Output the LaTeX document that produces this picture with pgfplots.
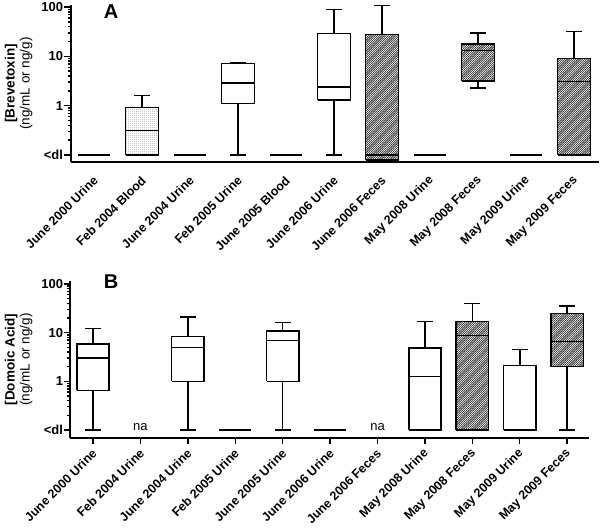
\documentclass[border=0pt]{standalone}
\usepackage{fontspec}
\setmainfont{Liberation Sans}
\usepackage{pgfplots}
\pgfplotsset{compat=1.18}
\usetikzlibrary{patterns}

\pgfdeclarepatternformonly{densehatch}{\pgfqpoint{-0.5pt}{-0.5pt}}{\pgfqpoint{2.7pt}{2.7pt}}{\pgfqpoint{2.2pt}{2.2pt}}{%
  \pgfsetlinewidth{0.6pt}%
  \pgfpathmoveto{\pgfqpoint{-0.3pt}{-0.3pt}}%
  \pgfpathlineto{\pgfqpoint{2.5pt}{2.5pt}}%
  \pgfusepath{stroke}%
}
\pgfdeclarepatternformonly{finedots}{\pgfpointorigin}{\pgfqpoint{2pt}{2pt}}{\pgfqpoint{2pt}{2pt}}{%
  \pgfpathcircle{\pgfqpoint{1pt}{1pt}}{0.45pt}%
  \pgfusepath{fill}%
}
\tikzset{
  hatch/.style={pattern=densehatch, pattern color=black!85},
  dotfill/.style={pattern=finedots, pattern color=black!65},
  nofill/.style={},
}
% \bx{style}{x}{lower whisker}{lower quartile}{median}{upper quartile}{upper whisker}
\newcommand{\bx}[7]{%
  \pgfmathsetmacro\xl{#2-0.34}\pgfmathsetmacro\xr{#2+0.34}%
  \pgfmathsetmacro\cl{#2-0.17}\pgfmathsetmacro\cright{#2+0.17}%
  \edef\tmp{%
    \noexpand\addplot[black,line width=1.5pt,#1] coordinates {(\xl,#4) (\xr,#4) (\xr,#6) (\xl,#6) (\xl,#4)};
    \noexpand\addplot[black,line width=1.5pt] coordinates {(\xl,#5) (\xr,#5)};
    \noexpand\addplot[black,line width=1.5pt] coordinates {(#2,#6) (#2,#7)};
    \noexpand\addplot[black,line width=1.5pt] coordinates {(#2,#3) (#2,#4)};
    \noexpand\addplot[black,line width=1.5pt] coordinates {(\cl,#7) (\cright,#7)};
    \noexpand\addplot[black,line width=1.5pt] coordinates {(\cl,#3) (\cright,#3)};
  }\tmp
}
\newcommand{\dl}[1]{%
  \pgfmathsetmacro\xl{#1-0.34}\pgfmathsetmacro\xr{#1+0.34}%
  \edef\tmp{\noexpand\addplot[black,line width=1.5pt] coordinates {(\xl,0.1) (\xr,0.1)};}\tmp
}

\begin{document}
\begin{tikzpicture}
\path (0pt,0pt) rectangle (602pt,518pt);

% Panel A
\begin{semilogyaxis}[
  scale only axis,
  clip=false,
  axis lines*=left,
  at={(71pt,356pt)}, anchor=south west,
  width=528pt, height=157pt,
  xmin=-0.48, xmax=10.52,
  ymin=0.072, ymax=110,
  ytick={0.1,1,10,100},
  yticklabels={<dl,1,10,100},
  axis line style={line width=1.8pt},
  ytick style={line width=1.4pt, black},
  xtick style={draw=none},
  tick align=outside,
  major tick length=7pt,
  xtick={0,1,2,3,4,5,6,7,8,9,10},
  xticklabels={June 2000 Urine, Feb 2004 Blood, June 2004 Urine, Feb 2005 Urine, June 2005 Blood, June 2006 Urine, June 2006 Feces, May 2008 Urine, May 2008 Feces, May 2009 Urine, May 2009 Feces},
  xticklabel style={anchor=east, xshift=4pt, yshift=-7pt, rotate=45, font=\bfseries\fontsize{12.5}{13}\selectfont},
  yticklabel style={inner sep=0.8pt, font=\bfseries\fontsize{13}{14}\selectfont},
  ylabel={\textbf{[Brevetoxin]}\\(ng/mL or ng/g)},
  ylabel style={align=center, font=\fontsize{13.5}{15}\selectfont, anchor=center, at={(axis description cs:-0.099,0.5)}},
]
\dl{0}
\bx{dotfill}{1}{0.1}{0.1}{0.31}{0.91}{1.6}
\dl{2}
\bx{nofill}{3}{0.1}{1.1}{2.9}{7.1}{7.4}
\dl{4}
\bx{nofill}{5}{0.1}{1.3}{2.4}{29}{89}
\bx{hatch}{6}{0.079}{0.079}{0.1}{27.5}{107}
\dl{7}
\bx{hatch}{8}{2.3}{3.2}{13}{18}{30}
\dl{9}
\bx{hatch}{10}{0.1}{0.1}{3.1}{9}{32}
\node[font=\bfseries\fontsize{20}{20}\selectfont] at (rel axis cs:0.076,0.955) {A};
\end{semilogyaxis}

% Panel B
\begin{semilogyaxis}[
  scale only axis,
  clip=false,
  axis lines*=left,
  at={(70pt,80pt)}, anchor=south west,
  width=519pt, height=157pt,
  xmin=-0.485, xmax=10.46,
  ymin=0.0685, ymax=115,
  ytick={0.1,1,10,100},
  yticklabels={<dl,1,10,100},
  axis line style={line width=1.8pt},
  tick style={line width=1.4pt, black},
  tick align=outside,
  major tick length=6pt,
  xtick={0,1,2,3,4,5,6,7,8,9,10},
  xticklabels={June 2000 Urine, Feb 2004 Urine, June 2004 Urine, Feb 2005 Urine, June 2005 Urine, June 2006 Urine, June 2006 Feces, May 2008 Urine, May 2008 Feces, May 2009 Urine, May 2009 Feces},
  xticklabel style={anchor=east, xshift=4pt, yshift=-5pt, rotate=45, font=\bfseries\fontsize{12.5}{13}\selectfont},
  yticklabel style={inner sep=0.8pt, font=\bfseries\fontsize{13}{14}\selectfont},
  ylabel={\textbf{[Domoic Acid]}\\(ng/mL or ng/g)},
  ylabel style={align=center, font=\fontsize{13.5}{15}\selectfont, anchor=center, at={(axis description cs:-0.099,0.5)}},
]
\bx{nofill}{0}{0.1}{0.65}{3.0}{5.8}{12.3}
\bx{nofill}{2}{0.1}{1.0}{5.0}{8.4}{21}
\dl{3}
\bx{nofill}{4}{0.1}{1.0}{6.9}{10.7}{16}
\dl{5}
\bx{nofill}{7}{0.1}{0.1}{1.27}{4.8}{17}
\bx{hatch}{8}{0.1}{0.1}{8.8}{17}{40}
\bx{nofill}{9}{0.1}{0.1}{0.1}{2.1}{4.5}
\bx{hatch}{10}{0.1}{2.0}{6.6}{25}{35}
\node[font=\fontsize{13}{13}\selectfont, anchor=base] at (axis cs:1,0.1) {na};
\node[font=\fontsize{13}{13}\selectfont, anchor=base] at (axis cs:6,0.1) {na};
\node[font=\bfseries\fontsize{20}{20}\selectfont] at (rel axis cs:0.079,0.997) {B};
\end{semilogyaxis}
\end{tikzpicture}
\end{document}
